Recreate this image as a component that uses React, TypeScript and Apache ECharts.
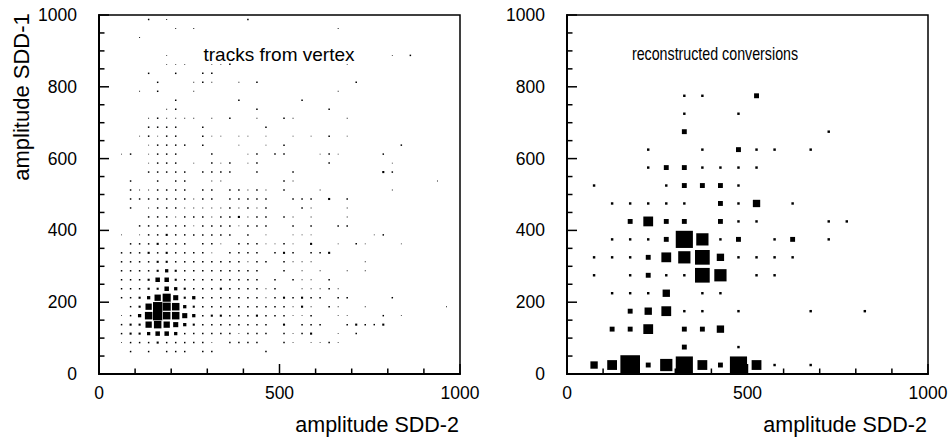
import React, { useEffect, useRef } from "react";
import * as echarts from "echarts";

const FONT = '"Liberation Sans", Arial, Helvetica, sans-serif';

// axis ranges and tick labels
const axisMin = 0;
const axisMax = 1000;
const xTickLabels = [0, 500, 1000];
const yTickLabels = [0, 200, 400, 600, 800, 1000];
const xMinorPerMajor = 5;
const yMinorPerMajor = 4;

// left panel: 25-unit bins, rows indexed by y-bin (0 = bottom), entries [x-bin, content]
const trackBinWidth = 25;
const tracksRows: number[][][] = [
  /* 0 */ [],
  /* 1 */ [],
  /* 2 */ [[3,2],[5,2],[7,2],[8,2],[9,2],[11,2],[12,2],[18,2]],
  /* 3 */ [[2,1],[3,2],[4,2],[5,2],[6,3],[7,2],[8,2],[9,2],[10,2],[11,2],[12,1],[14,2],[15,2],[16,2],[17,2],[20,2],[21,1],[23,1],[24,1],[25,2],[26,1]],
  /* 4 */ [[2,2],[3,3],[4,3],[5,5],[6,7],[7,7],[8,5],[9,2],[10,2],[11,2],[12,2],[13,2],[14,2],[15,1],[16,2],[17,2],[18,2],[20,2],[21,1],[22,2],[23,3],[26,1],[28,2]],
  /* 5 */ [[2,2],[3,3],[4,3],[5,10],[6,12],[7,10],[8,8],[9,5],[10,3],[11,2],[12,2],[13,2],[14,2],[15,2],[16,2],[17,2],[18,2],[20,3],[22,2],[23,2],[24,2],[27,2],[28,3],[29,2],[30,2],[31,3]],
  /* 6 */ [[2,1],[3,2],[4,5],[5,12],[6,15],[7,12],[8,12],[9,8],[10,5],[11,2],[12,3],[13,3],[14,2],[15,2],[16,2],[17,3],[18,2],[19,2],[20,2],[21,1],[22,1],[23,2],[26,1],[27,1],[31,2],[33,1]],
  /* 7 */ [[3,2],[4,3],[5,10],[6,15],[7,13],[8,12],[9,5],[10,3],[11,2],[12,2],[13,2],[14,2],[15,2],[16,2],[17,2],[18,2],[19,2],[20,2],[21,1],[22,3],[23,1],[25,2],[26,1],[29,1],[38,1]],
  /* 8 */ [[2,2],[3,2],[4,3],[5,5],[6,10],[7,13],[8,8],[9,3],[10,5],[11,2],[12,2],[13,2],[14,2],[15,2],[16,2],[17,2],[18,1],[19,2],[20,3],[21,2],[22,3],[23,2],[24,2],[26,2],[27,2],[32,2]],
  /* 9 */ [[2,2],[3,2],[4,2],[5,3],[6,3],[7,7],[8,5],[9,3],[10,2],[11,2],[12,2],[13,3],[14,2],[15,2],[16,2],[17,2],[18,1],[19,2],[22,1],[23,1],[24,1],[25,2],[26,1]],
  /* 10 */ [[2,2],[3,2],[4,2],[5,3],[6,7],[7,7],[8,3],[9,2],[10,2],[11,2],[12,2],[13,2],[14,2],[15,2],[16,2],[17,2],[19,2],[21,2],[22,1],[23,1],[25,2]],
  /* 11 */ [[2,2],[3,2],[4,2],[5,2],[6,3],[7,5],[8,3],[9,2],[10,2],[11,2],[12,2],[13,2],[14,2],[15,2],[16,2],[17,2],[20,2],[22,1],[24,1],[27,1],[29,1]],
  /* 12 */ [[2,2],[3,2],[4,2],[5,2],[6,3],[7,3],[8,2],[9,2],[10,2],[11,2],[12,2],[13,2],[14,2],[15,2],[16,1],[17,2],[18,2],[20,2],[21,1],[22,1],[23,1],[29,1]],
  /* 13 */ [[2,2],[3,2],[4,2],[5,3],[6,2],[7,3],[8,2],[9,2],[10,2],[11,2],[12,1],[14,2],[15,2],[16,2],[17,2],[19,2],[20,3],[21,2],[23,2],[24,2],[25,3]],
  /* 14 */ [[3,2],[4,2],[5,2],[6,3],[7,2],[8,2],[9,2],[11,2],[12,2],[13,1],[15,2],[16,2],[17,2],[18,1],[19,1],[20,2],[21,1],[23,3],[26,1],[28,2],[29,1],[33,1]],
  /* 15 */ [[2,1],[4,1],[5,2],[6,2],[7,3],[8,2],[9,2],[10,2],[11,2],[12,2],[13,2],[14,2],[16,2],[18,1],[21,1],[22,1],[23,1],[30,1],[31,2]],
  /* 16 */ [[4,2],[5,2],[6,2],[7,2],[8,2],[9,2],[10,1],[11,2],[12,2],[13,2],[14,2],[15,1],[16,2],[17,2],[18,2],[21,2],[23,2],[26,2],[27,2]],
  /* 17 */ [[5,2],[6,2],[7,2],[8,1],[9,2],[10,2],[11,2],[12,1],[13,2],[14,2],[15,3],[16,1],[17,2],[18,2],[20,2],[21,1],[23,1],[27,1]],
  /* 18 */ [[3,2],[5,1],[6,2],[7,2],[8,2],[9,1],[10,1],[11,1],[12,1],[13,1],[14,2],[15,1],[16,2],[17,1],[18,2],[22,2],[23,1],[27,1]],
  /* 19 */ [[3,2],[4,2],[5,2],[6,2],[7,2],[8,2],[9,2],[10,1],[11,2],[12,2],[14,2],[15,2],[16,2],[17,2],[18,2],[21,2],[22,2],[23,2],[25,3],[27,2]],
  /* 20 */ [[3,2],[4,1],[5,1],[6,2],[7,2],[8,2],[9,2],[11,2],[12,2],[14,2],[15,2],[16,1],[17,2],[18,1],[20,2],[24,1],[32,1]],
  /* 21 */ [[3,2],[6,2],[8,2],[9,2],[12,1],[13,1],[20,2],[21,1],[37,1]],
  /* 22 */ [[5,2],[6,2],[7,2],[8,2],[9,2],[11,2],[12,2],[13,2],[14,2],[17,2],[21,2],[31,3],[32,2]],
  /* 23 */ [[5,1],[6,2],[7,2],[8,2],[10,1],[12,2],[13,1],[14,2],[16,1],[17,2],[25,2],[32,1]],
  /* 24 */ [[2,1],[3,2],[5,1],[6,2],[7,2],[8,2],[12,2],[16,1],[17,2],[19,2],[20,2],[24,1],[25,2],[26,1],[31,2]],
  /* 25 */ [[5,1],[6,2],[7,2],[8,2],[9,2],[11,2],[15,1],[18,1],[20,2],[33,2]],
  /* 26 */ [[4,1],[5,2],[6,1],[7,2],[8,2],[11,2],[12,1],[13,1],[15,1],[16,1],[18,1],[21,1],[23,1],[25,2],[27,1]],
  /* 27 */ [[5,2],[6,2],[7,2],[8,2],[11,2],[18,2]],
  /* 28 */ [[5,1],[6,2],[7,1],[8,1],[9,1],[10,1],[12,1],[14,2],[17,1],[20,2],[21,1],[27,1]],
  /* 29 */ [[7,1],[8,2],[17,2],[25,2]],
  /* 30 */ [[8,2],[15,2],[22,2]],
  /* 31 */ [[4,1],[6,2],[10,1],[26,1]],
  /* 32 */ [[6,2],[10,1],[11,2],[12,1],[15,1],[17,2],[28,2]],
  /* 33 */ [[5,2],[8,2],[11,2],[12,2]],
  /* 34 */ [[7,1],[8,1],[9,1],[12,1],[13,1],[14,2],[27,1]],
  /* 35 */ [[7,1],[32,1],[34,2]],
  /* 36 */ [],
  /* 37 */ [[4,1]],
  /* 38 */ [[8,1],[10,1],[26,1]],
  /* 39 */ [[5,2],[7,1],[16,2]],
];

// right panel: 50-unit bins, [x centre, y centre, content]
const conversionBoxes: number[][] = [
  [325,775,1],[375,775,1],[525,775,2],
  [325,725,1],[475,725,1],
  [325,675,2],[725,675,1],
  [225,625,1],[375,625,1],[475,625,2],[525,625,1],[575,625,1],[675,625,1],
  [225,575,1],[275,575,2],[325,575,2],[375,575,1],[425,575,1],[475,575,1],[525,575,1],
  [75,525,1],[275,525,1],[325,525,2],[375,525,2],[425,525,2],[475,525,1],
  [125,475,1],[175,475,1],[225,475,1],[275,475,1],[325,475,1],[425,475,2],[475,475,1],[525,475,3],[625,475,1],
  [175,425,2],[225,425,4],[275,425,2],[325,425,2],[425,425,2],[475,425,1],[525,425,1],[725,425,1],[775,425,1],
  [125,375,1],[175,375,1],[225,375,1],[275,375,2],[325,375,7],[375,375,5],[425,375,1],[475,375,2],[575,375,1],[625,375,2],[725,375,1],
  [75,325,1],[125,325,1],[175,325,1],[225,325,2],[275,325,4],[325,325,5],[375,325,6],[425,325,3],[475,325,1],[525,325,1],[575,325,1],[625,325,1],
  [75,275,1],[175,275,1],[225,275,2],[275,275,1],[325,275,1],[375,275,6],[425,275,5],[525,275,1],[575,275,1],
  [125,225,1],[175,225,1],[225,225,1],[275,225,3],[375,225,1],[425,225,1],
  [175,175,2],[225,175,3],[275,175,4],[325,175,1],[375,175,1],[475,175,1],[675,175,1],[825,175,1],
  [125,125,2],[175,125,2],[225,125,4],[325,125,2],[375,125,2],[425,125,3],
  [325,75,2],[475,75,1],
  [75,25,3],[125,25,4],[175,25,8],[225,25,2],[275,25,5],[325,25,7],[375,25,4],[425,25,2],[475,25,7],[525,25,4],[575,25,1],[675,25,1],
];

const panelLabels = ["tracks from vertex", "reconstructed conversions"];
const xTitle = "amplitude SDD-2";
const yTitle = "amplitude SDD-1";

export default function App() {
  const ref = useRef<HTMLDivElement>(null);

  useEffect(() => {
    const chart = echarts.init(ref.current!, null, { renderer: "svg" });

    const trackData: number[][] = [];
    tracksRows.forEach((row, j) => {
      row.forEach(([i, c]) => {
        trackData.push([(i + 0.5) * trackBinWidth, (j + 0.5) * trackBinWidth, c]);
      });
    });

    const xInterval = xTickLabels[1] - xTickLabels[0];
    const yInterval = yTickLabels[1] - yTickLabels[0];

    // tick positions: [value, isMajor, direction(0 = x axis, 1 = y axis)]
    const tickData: number[][] = [];
    const xMinorStep = xInterval / xMinorPerMajor;
    const yMinorStep = yInterval / yMinorPerMajor;
    for (let v = axisMin; v <= axisMax; v += xMinorStep) tickData.push([v, v % xInterval === 0 ? 1 : 0, 0]);
    for (let v = axisMin; v <= axisMax; v += yMinorStep) tickData.push([v, v % yInterval === 0 ? 1 : 0, 1]);

    const renderTick = (_params: any, api: any) => {
      const v = api.value(0);
      const major = api.value(1) === 1;
      const dir = api.value(2);
      const len = major ? 10 : 5.5;
      if (dir === 0) {
        const p = api.coord([v, axisMin]);
        return {
          type: "line",
          shape: { x1: p[0], y1: p[1], x2: p[0], y2: p[1] - len },
          style: { stroke: "#000", lineWidth: 1.5 },
        };
      }
      const p = api.coord([axisMin, v]);
      return {
        type: "line",
        shape: { x1: p[0], y1: p[1], x2: p[0] + len, y2: p[1] },
        style: { stroke: "#000", lineWidth: 1.5 },
      };
    };

    const makeAxis = (gridIndex: number, interval: number, labelMargin: number) => ({
      type: "value",
      gridIndex,
      min: axisMin,
      max: axisMax,
      interval,
      axisLine: { show: true, onZero: false, lineStyle: { color: "#000", width: 2 } },
      axisTick: { show: false },
      minorTick: { show: false },
      axisLabel: {
        show: true, margin: labelMargin, fontSize: 17.5, color: "#000", fontFamily: FONT,
        formatter: (v: number) => String(v),
      },
      splitLine: { show: false },
    });

    const gridStyle = { show: true, borderColor: "#000", borderWidth: 1.5, containLabel: false };

    const tickSeries = (g: number) => ({
      type: "custom",
      xAxisIndex: g,
      yAxisIndex: g,
      renderItem: renderTick,
      data: tickData,
      clip: false,
      silent: true,
      z: 5,
      encode: { x: 0, y: 1 },
    });

    chart.setOption({
      animation: false,
      backgroundColor: "#fff",
      grid: [
        { ...gridStyle, left: 99, top: 15, width: 361, height: 359 },
        { ...gridStyle, left: 567, top: 15, width: 361, height: 359 },
      ],
      xAxis: [makeAxis(0, xInterval, 10), makeAxis(1, xInterval, 10)],
      yAxis: [makeAxis(0, yInterval, 22), makeAxis(1, yInterval, 22)],
      series: [
        {
          type: "scatter",
          xAxisIndex: 0,
          yAxisIndex: 0,
          symbol: "rect",
          symbolSize: (v: number[]) => v[2] * 0.6 + 0.3,
          itemStyle: { color: "#000", opacity: 1 },
          data: trackData,
          silent: true,
        },
        {
          type: "scatter",
          xAxisIndex: 1,
          yAxisIndex: 1,
          symbol: "rect",
          symbolSize: (v: number[]) => v[2] * 2.45,
          itemStyle: { color: "#000", opacity: 1 },
          data: conversionBoxes,
          silent: true,
        },
        tickSeries(0),
        tickSeries(1),
      ],
      graphic: [
        {
          type: "text",
          x: 21,
          y: 97,
          rotation: Math.PI / 2,
          style: { text: yTitle, fontSize: 22, fontFamily: FONT, fill: "#000", align: "center", verticalAlign: "middle" },
        },
        {
          type: "text",
          x: 459,
          y: 425,
          style: { text: xTitle, fontSize: 21.5, fontFamily: FONT, fill: "#000", align: "right", verticalAlign: "middle" },
        },
        {
          type: "text",
          x: 927,
          y: 425,
          style: { text: xTitle, fontSize: 21.5, fontFamily: FONT, fill: "#000", align: "right", verticalAlign: "middle" },
        },
        {
          type: "text",
          x: 279,
          y: 54,
          style: { text: panelLabels[0], fontSize: 19, fontFamily: FONT, fill: "#000", align: "center", verticalAlign: "middle" },
        },
        {
          type: "text",
          x: 715,
          y: 54,
          scaleX: 0.75,
          style: { text: panelLabels[1], fontSize: 19, fontFamily: FONT, fill: "#000", align: "center", verticalAlign: "middle" },
        },
      ],
    });

    return () => chart.dispose();
  }, []);

  return <div ref={ref} style={{ position: "fixed", left: 0, top: 0, width: 951, height: 442 }} />;
}
